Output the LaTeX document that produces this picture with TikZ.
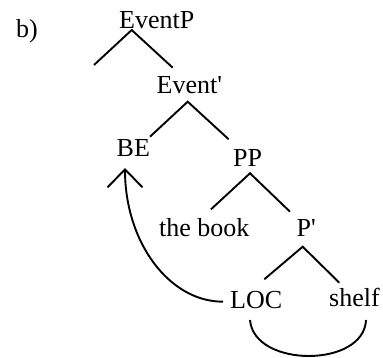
\documentclass[tikz,border=0pt]{standalone}
\usepackage{fontspec}
\setmainfont{Liberation Serif}[Ligatures=TeXOff]
\usetikzlibrary{arrows.meta}
\begin{document}
\begin{tikzpicture}[x=1pt,y=-1pt,
  lbl/.style={inner sep=0pt, anchor=base west, font=\fontsize{26}{30}\selectfont},
  branch/.style={line width=1.9pt}]
\useasboundingbox (0,0) rectangle (383,358);
% labels
\node[lbl] (b) at (16,38) {b)};
\node[lbl] (EP) at (119,29) {EventP};
\node[lbl] (Ev) at (156.5,93.3) {Event'};
\node[lbl] (BE) at (116.5,157) {BE};
\node[lbl] (PP) at (233,166.7) {PP};
\node[lbl] (book) at (159,236.7) {the book};
\node[lbl] (Pb) at (296.5,236.7) {P'};
\node[lbl] (LOC) at (230,308.3) {LOC};
\node[lbl] (shelf) at (329,306.7) {shelf};
% branch points
\coordinate (EPa) at (131.7,30);
\coordinate (EPl) at (94,65);
\coordinate (EPr) at (172.7,67.7);
\coordinate (Eva) at (187.7,101.7);
\coordinate (Evl) at (150,136.7);
\coordinate (Evr) at (228.7,139.3);
\coordinate (PPa) at (250,173.3);
\coordinate (PPl) at (211,209.3);
\coordinate (PPr) at (290,211.7);
\coordinate (Pba) at (302.7,246.7);
\coordinate (Pbl) at (264.3,279.3);
\coordinate (Pbr) at (339.3,282.7);
\coordinate (BEt) at (125,168);
\coordinate (LOCw) at (223,301.7);
\coordinate (LOCb) at (250,320);
\coordinate (shelfb) at (366,320);
% tree
\draw[branch] (EPl) -- (EPa) -- (EPr);
\draw[branch] (Evl) -- (Eva) -- (Evr);
\draw[branch] (PPl) -- (PPa) -- (PPr);
\draw[branch] (Pbl) -- (Pba) -- (Pbr);
% movement arrow
\draw[branch,-{Straight Barb[length=18pt,width=35pt]}] (LOCw) .. controls (169,301.7) and (125,242) .. (BEt);
% bottom link
\draw[branch] (LOCb) .. controls (254,368) and (364,368) .. (shelfb);
\end{tikzpicture}
\end{document}
